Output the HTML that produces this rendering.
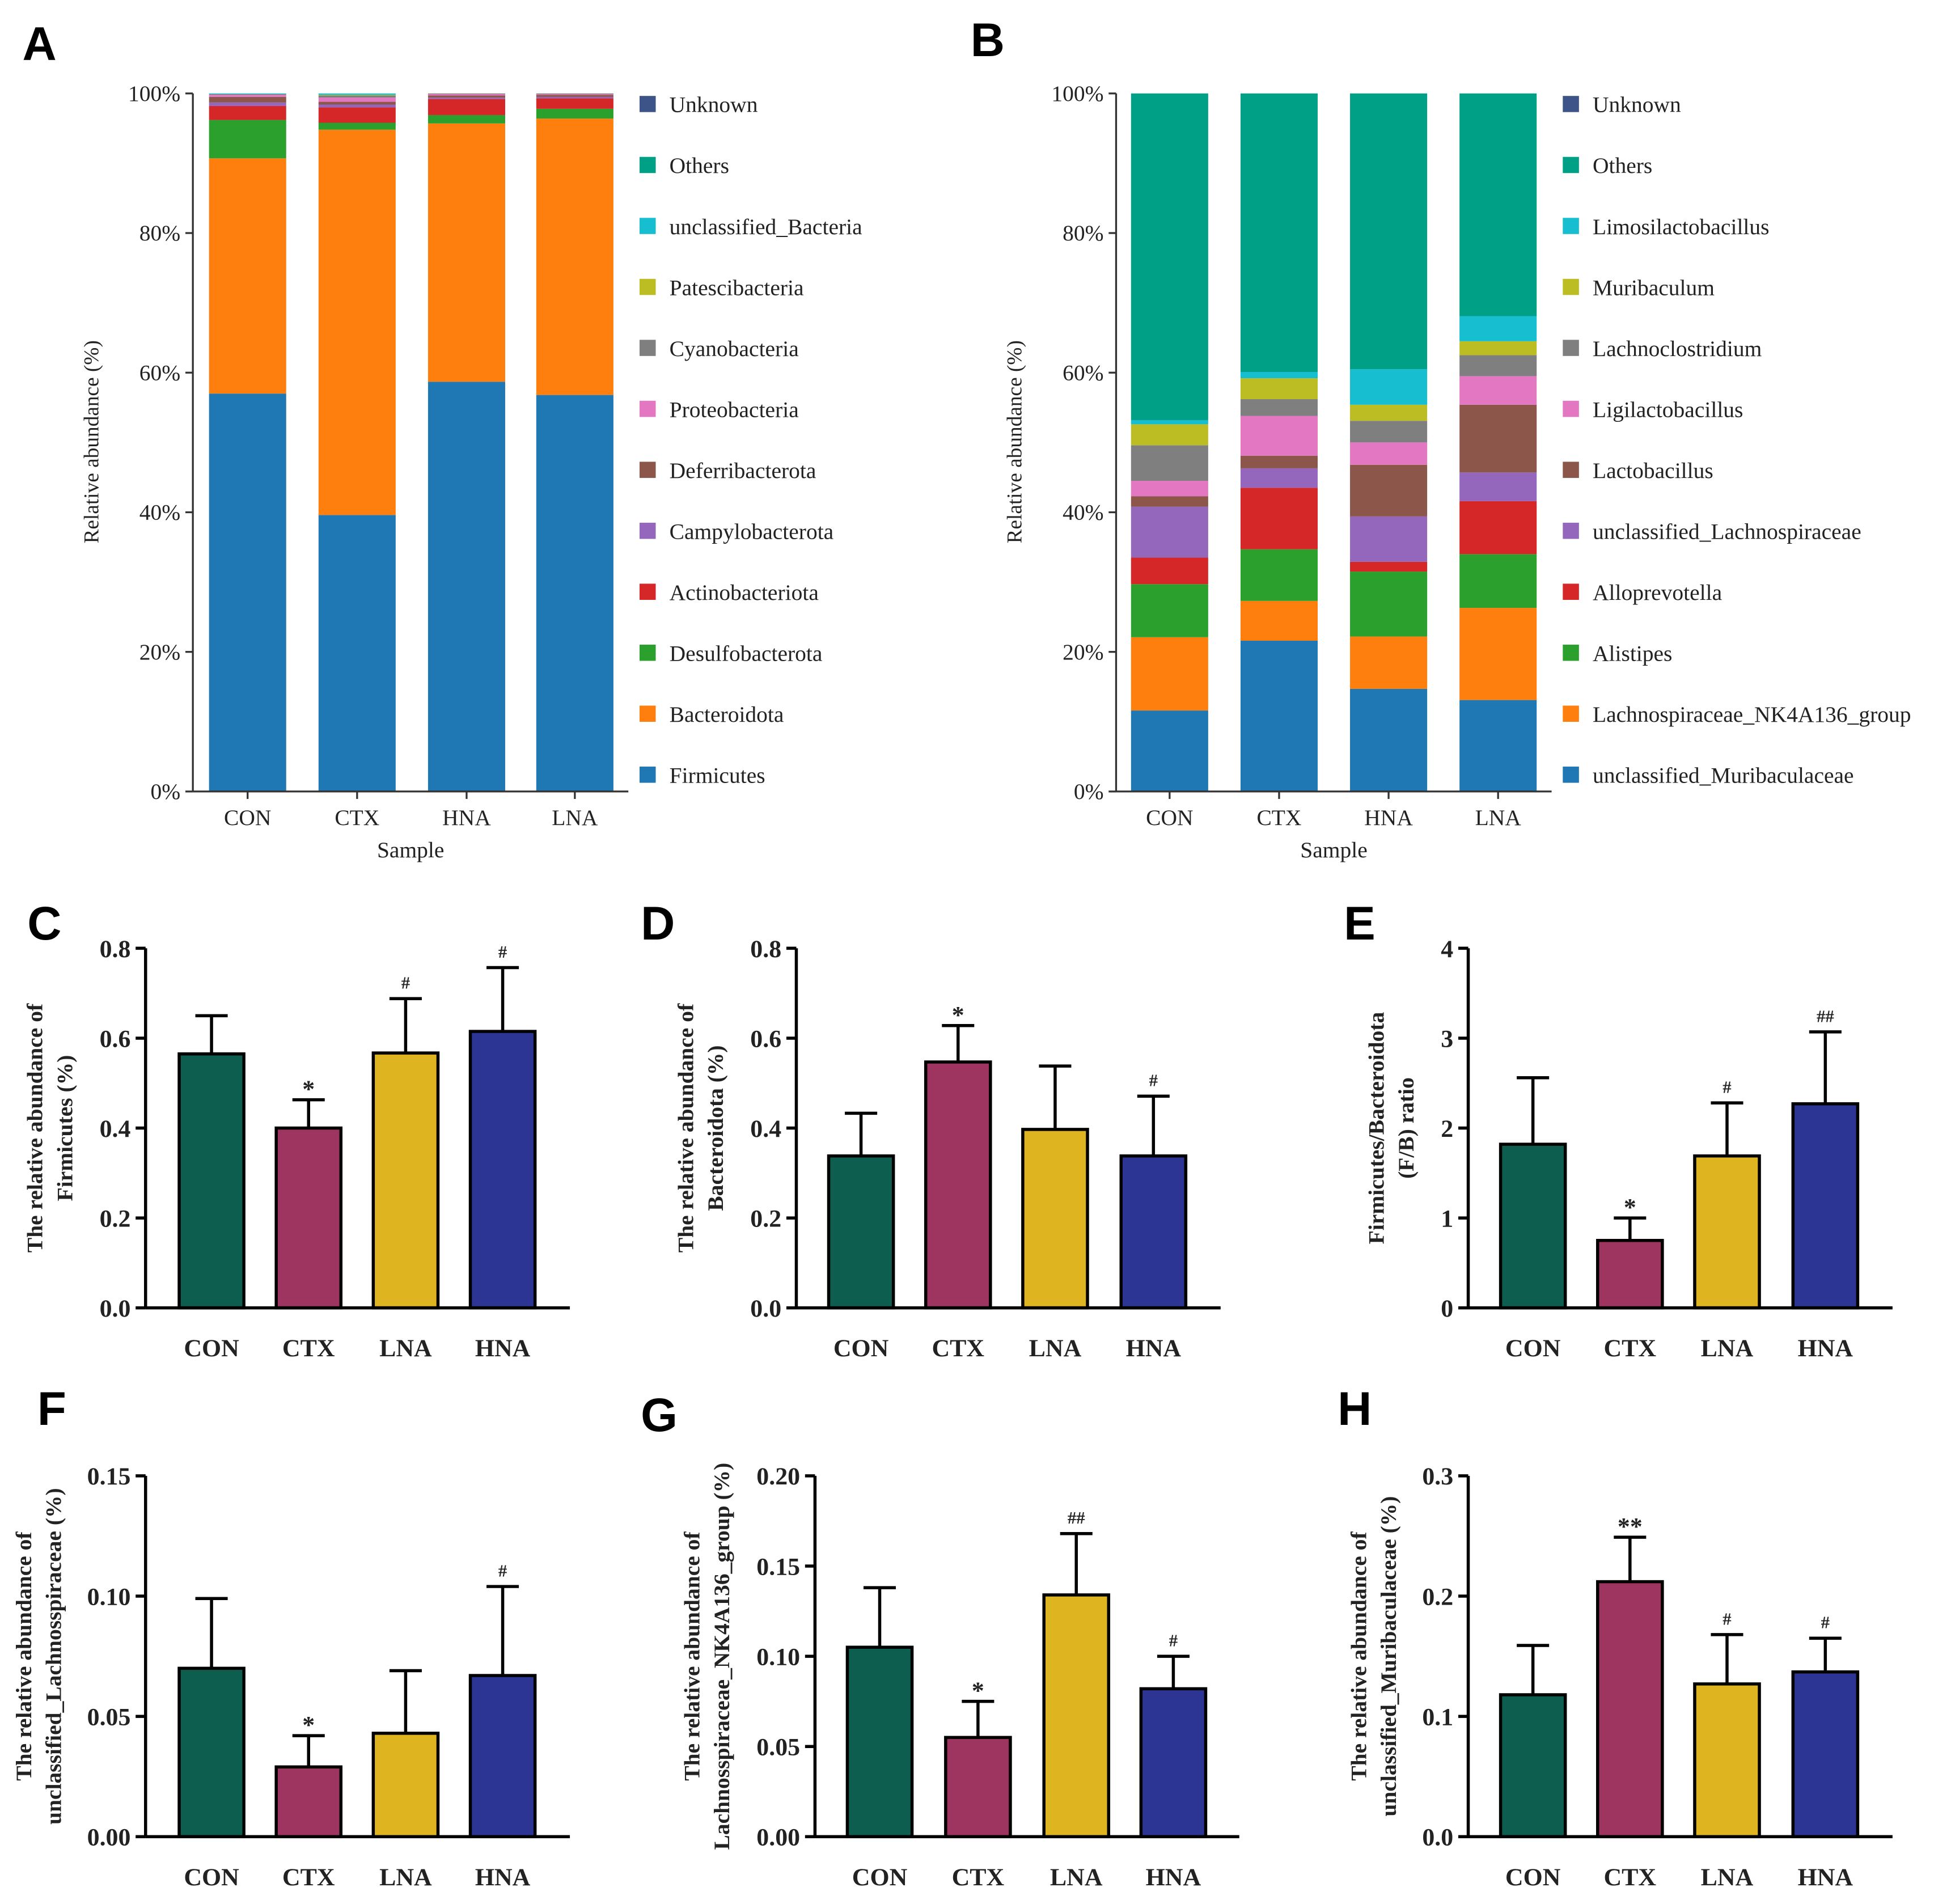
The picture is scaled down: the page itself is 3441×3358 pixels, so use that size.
<!DOCTYPE html>
<html><head><meta charset="utf-8"><style>
html,body{margin:0;padding:0;background:#fff}
svg{display:block}
text{font-family:"Liberation Serif",serif;fill:#222}
.bold{font-weight:bold}
.lt{font-family:"Liberation Sans",sans-serif;font-weight:bold;fill:#000}
</style></head><body>
<svg id="fig" width="3441" height="3358" viewBox="0 0 1568 1530" xmlns="http://www.w3.org/2000/svg"></svg>
<script>
// ---- Panel A data ----
const samplesAB = ["CON","CTX","HNA","LNA"];
const phylaNames = ["Firmicutes","Bacteroidota","Desulfobacterota","Actinobacteriota","Campylobacterota","Deferribacterota","Proteobacteria","Cyanobacteria","Patescibacteria","unclassified_Bacteria","Others","Unknown"];
const phylaCON = [57,33.7,5.5,2,0.5,0.8,0.3,0.1,0,0.1,0,0];
const phylaCTX = [39.6,55.2,1,2.2,0.4,0.4,0.6,0.3,0.1,0.2,0,0];
const phylaHNA = [58.7,37,1.2,2.3,0.2,0.3,0.2,0.1,0,0.1,0,0];
const phylaLNA = [56.8,39.6,1.4,1.5,0.2,0.3,0.1,0.1,0,0.1,0,0];
// ---- Panel B data ----
const genusNames = ["unclassified_Muribaculaceae","Lachnospiraceae_NK4A136_group","Alistipes","Alloprevotella","unclassified_Lachnospiraceae","Lactobacillus","Ligilactobacillus","Lachnoclostridium","Muribaculum","Limosilactobacillus","Others","Unknown"];
const genusCON = [11.6,10.5,7.6,3.8,7.3,1.5,2.2,5.1,3,0.6,46.8,0];
const genusCTX = [21.6,5.7,7.4,8.8,2.8,1.8,5.7,2.4,3,0.9,39.9,0];
const genusHNA = [14.7,7.5,9.3,1.4,6.5,7.4,3.2,3.1,2.3,5.1,39.5,0];
const genusLNA = [13.1,13.2,7.7,7.6,4.1,9.7,4.1,3,2,3.6,31.9,0];
const stackTicks = ["0%","20%","40%","60%","80%","100%"];
// ---- Bar panels data ----
const groups = ["CON","CTX","LNA","HNA"];
const meanC=[0.565,0.40,0.567,0.615], errC=[0.65,0.463,0.688,0.757], annC=["","*","#","#"];
const meanD=[0.338,0.547,0.397,0.338], errD=[0.433,0.628,0.538,0.471], annD=["","*","","#"];
const meanE=[1.82,0.75,1.69,2.27], errE=[2.56,1.0,2.28,3.07], annE=["","*","#","##"];
const meanF=[0.070,0.029,0.043,0.067], errF=[0.099,0.042,0.069,0.104], annF=["","*","","#"];
const meanG=[0.105,0.055,0.134,0.082], errG=[0.138,0.075,0.168,0.100], annG=["","*","##","#"];
const meanH=[0.118,0.212,0.127,0.137], errH=[0.159,0.249,0.168,0.165], annH=["","**","#","#"];
const ticksC=["0.0","0.2","0.4","0.6","0.8"], ticksE=["0","1","2","3","4"];
const ticksF=["0.00","0.05","0.10","0.15"], ticksG=["0.00","0.05","0.10","0.15","0.20"], ticksH=["0.0","0.1","0.2","0.3"];

const NS="http://www.w3.org/2000/svg";
const svg=document.getElementById('fig');
function mk(tag,attrs,parent,txt){const e=document.createElementNS(NS,tag);for(const k in attrs)e.setAttribute(k,attrs[k]);if(txt!==undefined)e.textContent=txt;(parent||svg).appendChild(e);return e;}
const stackColors=["#1f77b4","#ff7f0e","#2ca02c","#d62728","#9467bd","#8c564b","#e377c2","#7f7f7f","#bcbd22","#17becf","#00a087","#3c5488"];

function stackPanel(name,ax,series,names,legX,bx){
  const g=mk('g',{});
  
  
  const y0=636,y1=75,sy=v=>y0-(y0-y1)*v/100;
  series.forEach((vals,i)=>{
    let cum=0;
    vals.forEach((v,j)=>{
      const top=(j===vals.length-1)?100:Math.min(100,cum+v);
      if(j===vals.length-1 && top-cum<=0){cum=top;return;}
      const r=mk('rect',{x:bx[i]-31,y:sy(top),width:62,height:Math.max(0,sy(cum)-sy(top)),fill:stackColors[j]},g);
      
      
      cum=top;
    });
  });
  mk('line',{x1:ax,y1:y1,x2:ax,y2:y0,stroke:'#333','stroke-width':1.5},g);
  mk('line',{x1:ax,y1:y0,x2:ax+350,y2:y0,stroke:'#333','stroke-width':1.5},g);
  stackTicks.forEach((t,k)=>{const y=sy(k*20);mk('line',{x1:ax-6,y1:y,x2:ax,y2:y,stroke:'#333','stroke-width':1.5},g);
    const tt=mk('text',{x:ax-10,y:y+6,'text-anchor':'end','font-size':18},g,t);
    });
  samplesAB.forEach((s,i)=>{mk('line',{x1:bx[i],y1:y0,x2:bx[i],y2:y0+6,stroke:'#333','stroke-width':1.5},g);
    const tt=mk('text',{x:bx[i],y:663,'text-anchor':'middle','font-size':18},g,s);
    });
  const xt=mk('text',{x:ax+175,y:689,'text-anchor':'middle','font-size':18},g,'Sample');
  
  const yt=mk('text',{x:0,y:0,'text-anchor':'middle','font-size':17,transform:`translate(${ax-76},355) rotate(-90)`},g,'Relative abundance (%)');
  
  for(let j=names.length-1;j>=0;j--){
    const k=names.length-1-j, y=84+k*49;
    const le=mk('g',{},g);
    
    mk('rect',{x:legX,y:y-7,width:13,height:13,fill:stackColors[j]},le);
    mk('text',{x:legX+24,y:y+6,'font-size':18},le,names[j]);
  }
}
stackPanel('chart-a-phyla',155,[phylaCON,phylaCTX,phylaHNA,phylaLNA],phylaNames,514,[199,287,375,462]);
stackPanel('chart-b-genera',897,[genusCON,genusCTX,genusHNA,genusLNA],genusNames,1256,[940,1028,1116,1204]);

const barColors=["#0e5e50","#9e3560","#deb521","#2c3494"];
function barPanel(name,ax,y0,y1,maxv,ticks,means,errs,anns,centers,title1,title2,tx){
  const g=mk('g',{});
  
  
  const sy=v=>y0-(y0-y1)*v/maxv;
  means.forEach((m,i)=>{
    const c=centers[i];
    mk('line',{x1:c,y1:sy(errs[i]),x2:c,y2:sy(m),stroke:'#000','stroke-width':2.5},g);
    mk('line',{x1:c-13,y1:sy(errs[i]),x2:c+13,y2:sy(errs[i]),stroke:'#000','stroke-width':2.5},g);
    const r=mk('rect',{x:c-26,y:sy(m),width:52,height:y0-sy(m),fill:barColors[i],stroke:'#000','stroke-width':2.5},g);
    
    
    if(anns[i]){const a=mk('text',{x:c,y:sy(errs[i])-(anns[i][0]==='*'?2:8),'text-anchor':'middle','font-size':anns[i][0]==='*'?20:14,'class':'bold'},g,anns[i]);
      }
  });
  mk('line',{x1:ax,y1:y1,x2:ax,y2:y0,stroke:'#000','stroke-width':2.5},g);
  mk('line',{x1:ax,y1:y0,x2:ax+341,y2:y0,stroke:'#000','stroke-width':2.5},g);
  ticks.forEach((t,k)=>{const y=y0-(y0-y1)*k/(ticks.length-1);
    mk('line',{x1:ax-8,y1:y,x2:ax,y2:y,stroke:'#000','stroke-width':2.5},g);
    const tt=mk('text',{x:ax-12,y:y+7,'text-anchor':'end','font-size':20,'class':'bold'},g,t);
    });
  groups.forEach((s,i)=>{const tt=mk('text',{x:centers[i],y:y0+39,'text-anchor':'middle','font-size':20,'class':'bold'},g,s);
    });
  const cy=(y0+y1)/2;
  const yt=mk('text',{x:0,y:0,'text-anchor':'middle','font-size':18,'class':'bold',transform:`translate(${tx},${cy}) rotate(-90)`},g);
  
  mk('tspan',{x:0,dy:0},yt,title1);mk('tspan',{x:0,dy:24},yt,title2);
}
const cL=[170,248,326,404], cM=[692,770,848,927], cR=[1232,1310,1388,1467], cG=[707,786,865,943];
barPanel('chart-c-firmicutes',117,1051,762,0.8,ticksC,meanC,errC,annC,cL,'The relative abundance of','Firmicutes (%)',34);
barPanel('chart-d-bacteroidota',640,1051,762,0.8,ticksC,meanD,errD,annD,cM,'The relative abundance of','Bacteroidota (%)',557);
barPanel('chart-e-fb-ratio',1180,1051,762,4,ticksE,meanE,errE,annE,cR,'Firmicutes/Bacteroidota','(F/B) ratio',1112);
barPanel('chart-f-lachnospiraceae',117,1476,1186,0.15,ticksF,meanF,errF,annF,cL,'The relative abundance of','unclassified_Lachnosspiraceae (%)',25);
barPanel('chart-g-nk4a136',655,1476,1186,0.20,ticksG,meanG,errG,annG,cG,'The relative abundance of','Lachnosspiraceae_NK4A136_group (%)',562);
barPanel('chart-h-muribaculaceae',1180,1476,1186,0.3,ticksH,meanH,errH,annH,cR,'The relative abundance of','unclassified_Muribaculaceae  (%)',1098);

[["A",18,48],["B",780,45],["C",22,755],["D",515,755],["E",1080,755],["F",30,1145],["G",515,1150],["H",1075,1145]].forEach(p=>{
  const t=mk('text',{x:p[1],y:p[2],'font-size':38,'class':'lt'},svg,p[0]);
  
  
});
</script>
</body></html>
